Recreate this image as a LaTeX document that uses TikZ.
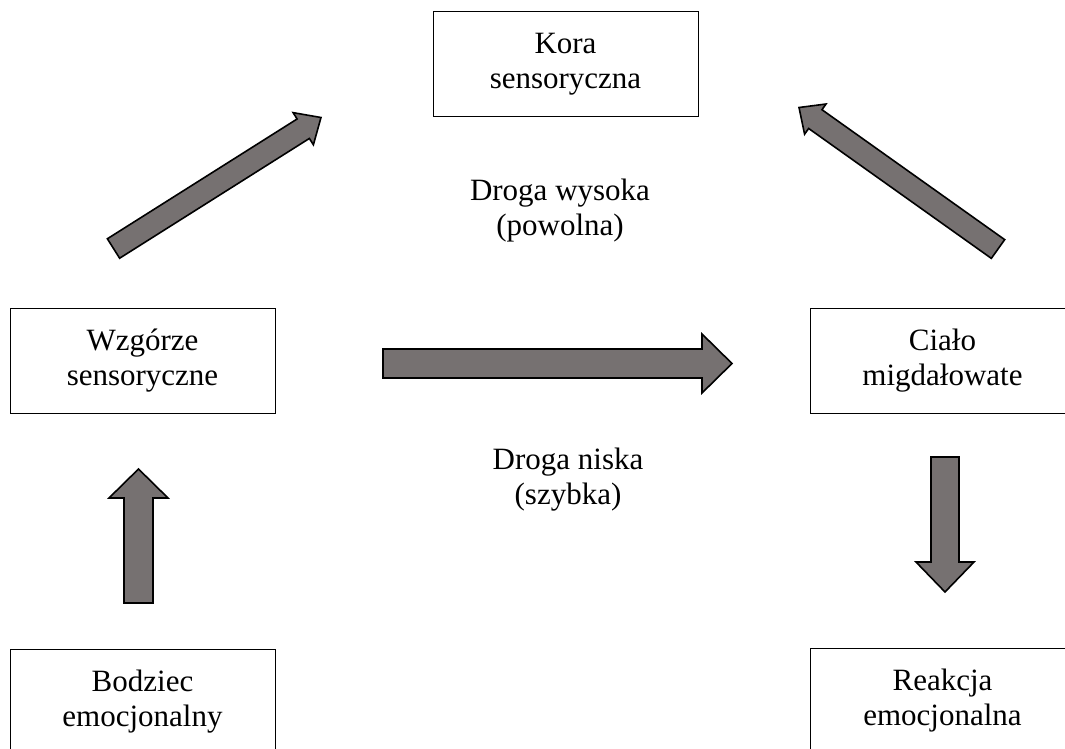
\documentclass[tikz,border=0pt]{standalone}
\usepackage{fontspec}
\setmainfont{Liberation Serif}
\usepackage{tikz}
\usetikzlibrary{calc}
\definecolor{arrowgray}{RGB}{118,113,113}
\tikzset{
	box/.style={draw, line width=1pt, minimum width=265pt, minimum height=105pt, align=center, inner sep=0pt, font=\fontsize{31pt}{35pt}\selectfont},
	roadtext/.style={align=center, inner sep=0pt, font=\fontsize{31pt}{35pt}\selectfont},
	fatarrow/.style={draw, line width=1.6pt, fill=arrowgray, line join=miter}
}
\newcommand{\blockarrow}[5]{%
	\coordinate (hb) at ($(#2)!#5!(#1)$);
	\draw[fatarrow] ($(#1)!#3!90:(#2)$) -- ($(hb)!#3!90:(#2)$) -- ($(hb)!#4!90:(#2)$) -- (#2) -- ($(hb)!#4!-90:(#2)$) -- ($(hb)!#3!-90:(#2)$) -- ($(#1)!#3!-90:(#2)$) -- cycle;
}

\begin{document}
\begin{tikzpicture}[x=1pt, y=-1pt]
	\useasboundingbox (0,0) rectangle (1065,749);
	\clip (0,0) rectangle (1065,749);
	\node[box] (kora) at (565.5,64) {Kora\\sensoryczna};
	\node[box] (wzgorze) at (142.5,360.5) {Wzgórze\\sensoryczne};
	\node[box] (cialo) at (942.5,360.5) {Ciało\\migdałowate};
	\node[box] (bodziec) at (142.5,701.5) {Bodziec\\emocjonalny};
	\node[box] (reakcja) at (942.5,700.5) {Reakcja\\emocjonalna};
	\node[roadtext] (wysoka) at (560,211) {Droga wysoka\\(powolna)};
	\node[roadtext] (niska) at (568,480) {Droga niska\\(szybka)};
	\coordinate (up-s) at (138.5,603);
	\coordinate (up-e) at (138.5,469);
	\coordinate (high-s) at (113.5,248.5);
	\coordinate (high-e) at (321,117.5);
	\coordinate (low-s) at (383,363.5);
	\coordinate (low-e) at (732,363.5);
	\coordinate (back-s) at (998,249);
	\coordinate (back-e) at (799,107.5);
	\coordinate (down-s) at (945,457);
	\coordinate (down-e) at (945,592);
	\blockarrow{up-s}{up-e}{14.5pt}{29.5pt}{29pt}
	\blockarrow{high-s}{high-e}{11.5pt}{19pt}{21pt}
	\blockarrow{low-s}{low-e}{14.5pt}{29.5pt}{30pt}
	\blockarrow{back-s}{back-e}{11.5pt}{18.5pt}{20pt}
	\blockarrow{down-s}{down-e}{14pt}{29pt}{30pt}
\end{tikzpicture}
\end{document}
